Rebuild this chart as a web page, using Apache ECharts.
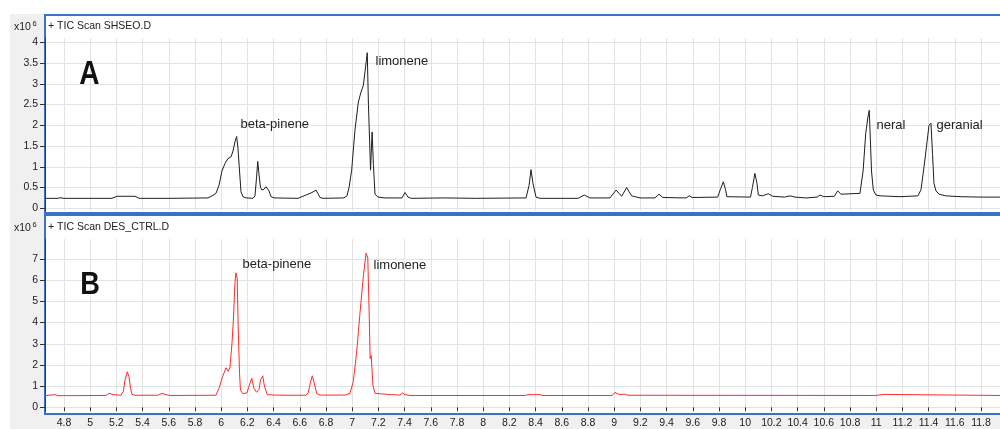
<!DOCTYPE html>
<html>
<head>
<meta charset="utf-8">
<script src="https://cdn.jsdelivr.net/npm/echarts@6/dist/echarts.min.js"></script>
<style>
html,body{margin:0;padding:0;background:#fff;}
#chart{width:1000px;height:429px;}
</style>
</head>
<body>
<div id="chart"></div>
<script>
// Retention time (min) tick labels
const xTicks = [4.8,5,5.2,5.4,5.6,5.8,6,6.2,6.4,6.6,6.8,7,7.2,7.4,7.6,7.8,8,8.2,8.4,8.6,8.8,9,9.2,9.4,9.6,9.8,10,10.2,10.4,10.6,10.8,11,11.2,11.4,11.6,11.8];
const yTicksA = [0,0.5,1,1.5,2,2.5,3,3.5,4];
const yTicksB = [0,1,2,3,4,5,6,7];

// Panel A: TIC Scan SHSEO.D  [time, intensity x10^6]
const ticA = [
 [4.655,0.24],[4.754,0.24],[4.77,0.255],[4.785,0.25],[4.8,0.24],[5.166,0.24],[5.205,0.29],[5.342,0.29],[5.373,0.24],
 [5.502,0.24],[5.51,0.26],[5.518,0.24],[5.586,0.24],[5.594,0.26],[5.602,0.24],[5.899,0.25],[5.93,0.3],[5.96,0.36],
 [5.983,0.55],[6.006,0.9],[6.029,1.08],[6.052,1.2],[6.075,1.24],[6.09,1.38],[6.105,1.6],[6.118,1.73],[6.128,1.45],
 [6.14,0.9],[6.151,0.4],[6.166,0.28],[6.19,0.25],[6.243,0.24],[6.258,0.3],[6.27,0.75],[6.279,1.13],[6.289,0.8],
 [6.3,0.5],[6.311,0.44],[6.327,0.46],[6.342,0.52],[6.355,0.54],[6.365,0.42],[6.38,0.28],[6.403,0.25],[6.586,0.24],
 [6.6,0.26],[6.647,0.32],[6.693,0.38],[6.724,0.44],[6.739,0.35],[6.754,0.26],[6.777,0.24],[6.937,0.25],[6.96,0.3],
 [6.976,0.5],[6.996,0.92],[7.021,1.88],[7.047,2.56],[7.067,2.8],[7.085,2.96],[7.098,3.3],[7.115,3.75],[7.124,2.5],
 [7.14,0.92],[7.152,1.84],[7.162,1.05],[7.174,0.34],[7.197,0.27],[7.25,0.25],[7.38,0.25],[7.403,0.38],[7.426,0.27],
 [7.45,0.24],[7.7,0.25],[7.95,0.24],[8.327,0.25],[8.35,0.55],[8.365,0.93],[8.38,0.6],[8.403,0.27],[8.434,0.24],
 [8.724,0.24],[8.772,0.32],[8.815,0.25],[8.968,0.25],[9.014,0.44],[9.057,0.29],[9.095,0.5],[9.133,0.3],[9.197,0.25],
 [9.311,0.25],[9.342,0.34],[9.372,0.26],[9.548,0.25],[9.573,0.3],[9.595,0.26],[9.79,0.27],[9.81,0.45],[9.833,0.64],
 [9.85,0.45],[9.86,0.28],[10.04,0.27],[10.055,0.5],[10.074,0.84],[10.09,0.6],[10.1,0.32],[10.13,0.3],[10.176,0.35],
 [10.21,0.29],[10.3,0.27],[10.342,0.3],[10.38,0.27],[10.464,0.25],[10.55,0.27],[10.571,0.32],[10.6,0.28],[10.68,0.29],
 [10.706,0.42],[10.73,0.34],[10.876,0.36],[10.9,0.9],[10.92,1.8],[10.937,2.2],[10.947,2.36],[10.956,1.6],[10.964,0.9],
 [10.978,0.44],[10.998,0.32],[11.03,0.3],[11.182,0.28],[11.319,0.3],[11.342,0.45],[11.365,1.0],[11.388,1.6],
 [11.403,2.0],[11.418,2.05],[11.43,1.3],[11.441,0.6],[11.456,0.42],[11.48,0.34],[11.53,0.3],[11.64,0.28],[11.8,0.27],[11.945,0.27]
];

// Panel B: TIC Scan DES_CTRL.D  [time, intensity x10^6]
const ticB = [
 [4.655,0.56],[4.7,0.58],[4.731,0.6],[4.755,0.55],[5.12,0.56],[5.144,0.66],[5.175,0.6],[5.235,0.57],[5.253,0.75],
 [5.266,1.3],[5.283,1.68],[5.296,1.45],[5.308,0.9],[5.319,0.62],[5.342,0.57],[5.518,0.57],[5.55,0.66],[5.578,0.6],
 [5.61,0.56],[5.96,0.57],[5.983,0.9],[6.011,1.45],[6.037,1.87],[6.054,1.7],[6.067,1.9],[6.082,3.0],[6.092,4.0],
 [6.105,5.88],[6.112,6.35],[6.122,6.1],[6.13,3.7],[6.14,1.6],[6.147,0.8],[6.166,0.65],[6.197,0.68],[6.21,0.95],
 [6.233,1.37],[6.25,0.9],[6.27,0.71],[6.289,0.85],[6.3,1.3],[6.317,1.49],[6.33,1.0],[6.352,0.6],[6.41,0.58],
 [6.525,0.57],[6.647,0.57],[6.665,0.7],[6.682,1.2],[6.695,1.49],[6.708,1.2],[6.729,0.65],[6.754,0.58],[6.945,0.58],
 [6.983,0.66],[7.008,1.21],[7.034,2.6],[7.06,4.48],[7.085,6.19],[7.106,7.28],[7.119,7.05],[7.13,4.32],[7.137,2.3],
 [7.145,2.45],[7.158,1.05],[7.174,0.66],[7.213,0.64],[7.29,0.6],[7.365,0.58],[7.385,0.68],[7.403,0.6],[7.44,0.56],
 [8.319,0.56],[8.342,0.6],[8.434,0.6],[8.45,0.56],[8.983,0.56],[9.006,0.7],[9.03,0.63],[9.052,0.6],[9.075,0.63],
 [9.105,0.57],[10.991,0.56],[11.006,0.61],[11.06,0.61],[11.075,0.56],[11.945,0.56]
];

// Peak annotations [label, time, intensity]
const labelsA = [['beta-pinene',6.143,2.03],['limonene',7.174,3.55],['neral',10.998,2.0],['geranial',11.456,2.0]];
const labelsB = [['beta-pinene',6.159,6.73],['limonene',7.159,6.69]];

const FONT = 'Liberation Sans, Arial, sans-serif';
const GRID_COLOR = '#e3e3e3';
const BLUE = '#3b72c8';

function xAxisCfg(gridIndex, showLabels){
  return {
    type:'value', gridIndex, min:4.655, max:11.945,
    axisLine:{show:false},
    axisTick:{show:showLabels, customValues:xTicks, length:4, lineStyle:{color:'#333'}},
    axisLabel:{show:showLabels, customValues:xTicks, formatter:v=>String(v), fontFamily:FONT, fontSize:10.5, color:'#222', margin:7},
    splitLine:{show:true, lineStyle:{color:GRID_COLOR, width:1}}
  };
}
function yAxisCfg(gridIndex, min, max, ticks){
  return {
    type:'value', gridIndex, min, max,
    axisLine:{show:true, lineStyle:{color:'#2b3f66', width:1}},
    axisTick:{show:true, customValues:ticks, length:5, lineStyle:{color:'#333'}},
    axisLabel:{customValues:ticks, formatter:v=>String(v), fontFamily:FONT, fontSize:10.5, color:'#222', margin:7},
    splitLine:{show:true, lineStyle:{color:GRID_COLOR, width:1}}
  };
}
function markLabels(list){
  return {
    symbol:'circle', symbolSize:1, itemStyle:{color:'rgba(0,0,0,0)'}, animation:false, silent:true,
    label:{show:true, position:'right', distance:0, formatter:p=>p.name, fontFamily:FONT, fontSize:13, color:'#222'},
    data:list.map(l=>({name:l[0], coord:[l[1],l[2]]}))
  };
}

const chart = echarts.init(document.getElementById('chart'), null, {renderer:'canvas'});
chart.setOption({
  animation:false,
  backgroundColor:'#fff',
  grid:[
    {left:45, right:0, top:38, height:173},
    {left:45, right:0, top:239, height:174}
  ],
  xAxis:[xAxisCfg(0,false), xAxisCfg(1,true)],
  yAxis:[yAxisCfg(0,-0.065,4.104,yTicksA), yAxisCfg(1,-0.173,7.947,yTicksB)],
  series:[
    {type:'line', xAxisIndex:0, yAxisIndex:0, data:ticA, showSymbol:false, symbol:'none',
     lineStyle:{color:'#1e1e1e', width:1}, markPoint:markLabels(labelsA), z:5},
    {type:'line', xAxisIndex:1, yAxisIndex:1, data:ticB, showSymbol:false, symbol:'none',
     lineStyle:{color:'#ff2b2b', width:1}, markPoint:markLabels(labelsB), z:5}
  ],
  graphic:[
    {type:'rect', silent:true, z:-30, shape:{x:10,y:14,width:990,height:415}, style:{fill:'#f0f0f0'}},
    {type:'rect', silent:true, z:-20, shape:{x:45,y:15,width:960,height:198}, style:{fill:'#fff', stroke:BLUE, lineWidth:2}},
    {type:'rect', silent:true, z:-20, shape:{x:45,y:215,width:960,height:199}, style:{fill:'#fff', stroke:BLUE, lineWidth:2}},
    {type:'rect', silent:true, z:10, shape:{x:45,y:413,width:960,height:2}, style:{fill:BLUE}},
    {type:'text', silent:true, z:10, x:48, y:26.5, style:{text:'+ TIC Scan SHSEO.D', font:'10.5px '+FONT, fill:'#222', verticalAlign:'middle'}},
    {type:'text', silent:true, z:10, x:48, y:227.5, style:{text:'+ TIC Scan DES_CTRL.D', font:'10.5px '+FONT, fill:'#222', verticalAlign:'middle'}},
    {type:'text', silent:true, z:10, x:14, y:27, style:{text:'x10', font:'10.5px '+FONT, fill:'#222', verticalAlign:'middle'}},
    {type:'text', silent:true, z:10, x:32.5, y:24, style:{text:'6', font:'7.5px '+FONT, fill:'#222', verticalAlign:'middle'}},
    {type:'text', silent:true, z:10, x:14, y:228, style:{text:'x10', font:'10.5px '+FONT, fill:'#222', verticalAlign:'middle'}},
    {type:'text', silent:true, z:10, x:32.5, y:225, style:{text:'6', font:'7.5px '+FONT, fill:'#222', verticalAlign:'middle'}},
    {type:'text', silent:true, z:10, x:89.5, y:75, scaleX:0.85, style:{text:'A', font:'bold 33px '+FONT, fill:'#111', align:'center', verticalAlign:'middle'}},
    {type:'text', silent:true, z:10, x:90, y:285, scaleX:0.85, style:{text:'B', font:'bold 32px '+FONT, fill:'#111', align:'center', verticalAlign:'middle'}}
  ]
});
</script>
</body>
</html>
